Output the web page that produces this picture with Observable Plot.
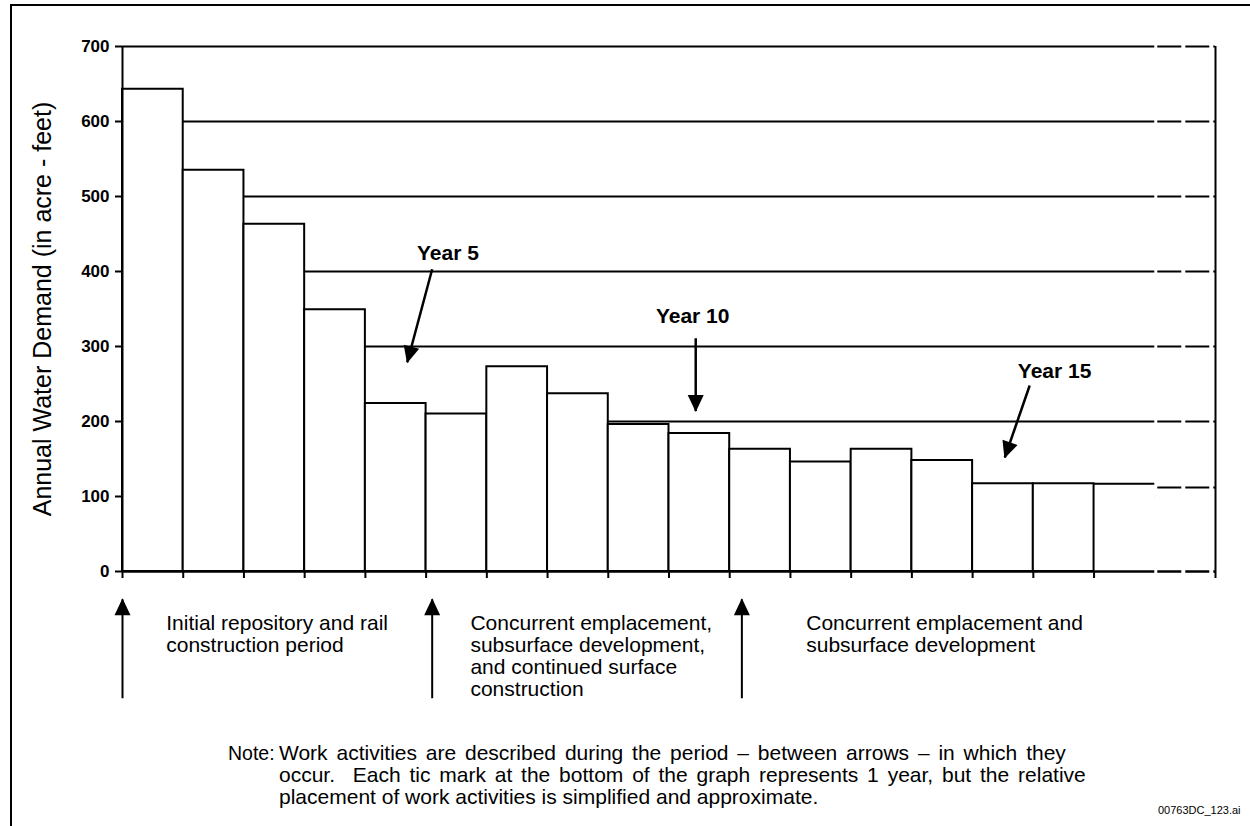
<!DOCTYPE html>
<html><head><meta charset="utf-8">
<script src="https://cdn.jsdelivr.net/npm/d3@7"></script>
<script src="https://cdn.jsdelivr.net/npm/@observablehq/plot@0.6"></script>
<style>
body{margin:0;background:#fff;font-family:"Liberation Sans",Arial,sans-serif;color:#000}
#wrap{position:relative;width:1250px;height:826px;overflow:hidden;background:#fff}
#bl{position:absolute;left:10px;top:4px;width:2px;height:822px;background:#000}
#bt{position:absolute;left:10px;top:4px;width:1240px;height:2px;background:#000}
#chart{position:absolute;left:0;top:0}
#note{position:absolute;left:228px;top:742px;font-size:21px;line-height:22px;display:flex;white-space:nowrap}
#note .lab{width:51px;flex:none;font-size:19.5px}
#note .w{word-spacing:3px}
#cap{position:absolute;left:1158px;top:804px;font-size:11px}
</style></head>
<body>
<div id="wrap">
  <div id="chart"></div>
  <div id="bl"></div><div id="bt"></div>
  <div id="note"><span class="lab">Note:</span><span><span class="w">Work activities are described during the period – between arrows – in which they</span><br><span class="w">occur.&nbsp; Each tic mark at the bottom of the graph represents 1 year, but the relative</span><br>placement of work activities is simplified and approximate.</span></div>
  <div id="cap">00763DC_123.ai</div>
</div>
<script>
// ---- data ----
const yearStart = [0, 1, 2, 3, 4, 5, 6, 7, 8, 9, 10, 11, 12, 13, 14, 15, 16, 17];
const demand = [643, 535, 463, 349, 224, 210, 273, 237, 196, 184, 163, 146, 163, 148, 117, 117, 117, 112];
const yTicks = [0, 100, 200, 300, 400, 500, 600, 700];
const gridLevels = [100, 200, 300, 400, 500, 600, 700];
const xTicks = [0, 1, 2, 3, 4, 5, 6, 7, 8, 9, 10, 11, 12, 13, 14, 15, 16, 18];
const openBarStart = 16;  // bar whose right edge is not drawn
const breakStart = 17;    // last year shown as dashed continuation
const axisEnd = 18;
const yLabel = "Annual Water Demand (in acre - feet)";

const yearLabels = ["Year 5", "Year 10", "Year 15"];
const yearLabelX = [5.36, 9.39, 15.35];
const yearLabelY = [424, 340, 267];
const yearArrowX1 = [5.10, 9.44, 14.94];
const yearArrowY1 = [403, 311, 248];
const yearArrowX2 = [4.69, 9.44, 14.53];
const yearArrowY2 = [279, 214, 152];

const phaseArrowX = [0, 5.1, 10.2];
const phaseArrowTailY = -169;
const phaseArrowTipY = -37;
const phaseTextX = [0.72, 5.73, 11.26];
const phaseTextY = -57;
const phaseTexts = [
  "Initial repository and rail\nconstruction period",
  "Concurrent emplacement,\nsubsurface development,\nand continued surface\nconstruction",
  "Concurrent emplacement and\nsubsurface development"
];

// ---- tables ----
const bars = yearStart.map((x, i) => ({x1: x, x2: x + 1, v: demand[i]}));
const closedBars = bars.filter(d => d.x1 < openBarStart);
const openBars = bars.filter(d => d.x1 >= openBarStart && d.x1 < breakStart);
const lastBar = bars.filter(d => d.x1 >= breakStart);
const yearNotes = yearLabels.map((t, i) => ({t, x: yearLabelX[i], y: yearLabelY[i],
  x1: yearArrowX1[i], y1: yearArrowY1[i], x2: yearArrowX2[i], y2: yearArrowY2[i]}));
const phases = phaseTexts.map((t, i) => ({t, x: phaseTextX[i], ax: phaseArrowX[i]}));

const head = (color) => {
  const m = d3.create("svg:marker")
    .attr("viewBox", "-17 -9 18 18")
    .attr("markerWidth", 18).attr("markerHeight", 18)
    .attr("markerUnits", "userSpaceOnUse")
    .attr("orient", "auto").attr("refX", 0).attr("refY", 0);
  m.append("path").attr("d", "M1,0L-16,-8L-16,8Z").attr("fill", color).attr("stroke", "none");
  return m.node();
};

const dash = {strokeDasharray: "24,4", strokeDashoffset: -3};

const chart = Plot.plot({
  width: 1250, height: 720,
  marginLeft: 122, marginRight: 35, marginTop: 46, marginBottom: 149,
  x: {domain: [0, axisEnd]},
  y: {domain: [0, 700]},
  style: {fontFamily: "'Liberation Sans', Arial, sans-serif", color: "black", background: "white", overflow: "visible"},
  marks: [
    Plot.ruleY(gridLevels, {x1: 0, x2: breakStart, stroke: "black", strokeWidth: 2}),
    Plot.ruleY(gridLevels, {x1: breakStart, x2: axisEnd, stroke: "black", strokeWidth: 2, ...dash}),
    Plot.rect(openBars, {x1: "x1", x2: "x2", y1: 0, y2: "v", fill: "white"}),
    Plot.rect(lastBar, {x1: "x1", x2: "x2", y1: 0, y2: "v", fill: "white"}),
    Plot.rect(closedBars, {x1: "x1", x2: "x2", y1: 0, y2: "v", fill: "white", stroke: "black", strokeWidth: 2}),
    Plot.ruleY(openBars, {x1: "x1", x2: "x2", y: "v", stroke: "black", strokeWidth: 2}),
    Plot.ruleY(lastBar, {x1: "x1", x2: "x2", y: "v", stroke: "black", strokeWidth: 2, ...dash}),
    Plot.ruleY([0], {x1: 0, x2: breakStart, stroke: "black", strokeWidth: 2.5}),
    Plot.ruleY([0], {x1: breakStart, x2: axisEnd, stroke: "black", strokeWidth: 2.5, ...dash}),
    Plot.ruleX([0], {y1: 0, y2: 700, stroke: "black", strokeWidth: 2}),
    Plot.ruleX([axisEnd], {y1: 0, y2: 700, stroke: "black", strokeWidth: 2}),
    Plot.axisY(yTicks, {tickSize: 7, tickPadding: 6, fontSize: 17, fontWeight: "bold", strokeWidth: 2, label: null}),
    Plot.axisX(xTicks, {tickSize: 7, tickFormat: () => "", strokeWidth: 2, label: null}),
    Plot.text([yLabel], {frameAnchor: "left", textAnchor: "middle", rotate: -90, dx: -80, fontSize: 25, fill: "black"}),
    // year callouts
    Plot.text(yearNotes, {x: "x", y: "y", text: "t", fontSize: 21, fontWeight: "bold", fill: "black"}),
    Plot.link(yearNotes, {x1: "x1", y1: "y1", x2: "x2", y2: "y2", stroke: "black", strokeWidth: 2.5, markerEnd: head}),
    // phase arrows and texts below axis
    Plot.link(phases, {x1: "ax", x2: "ax", y1: phaseArrowTailY, y2: phaseArrowTipY, stroke: "black", strokeWidth: 2, markerEnd: head}),
    Plot.text(phases, {x: "x", y: phaseTextY, text: "t", textAnchor: "start", lineAnchor: "top", fontSize: 21, lineHeight: 1.05, fill: "black"})
  ]
});
document.getElementById("chart").appendChild(chart);
</script>
</body></html>
